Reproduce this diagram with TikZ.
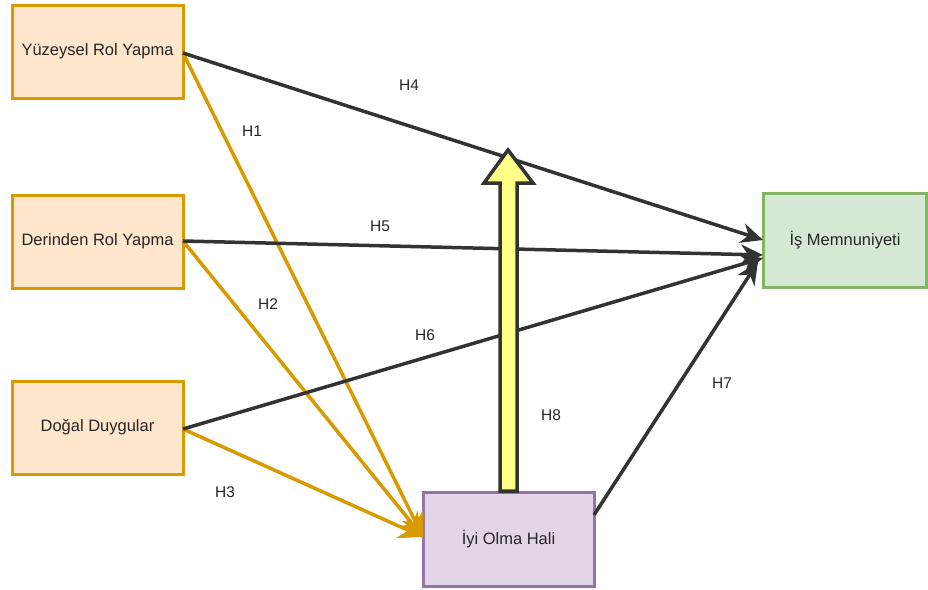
\documentclass[tikz,border=0pt]{standalone}
\usepackage{fontspec}
\setmainfont{Liberation Sans}
\usetikzlibrary{arrows.meta}
\definecolor{orfill}{HTML}{FFE6CC}
\definecolor{orline}{HTML}{D79B00}
\definecolor{grfill}{HTML}{D5E8D4}
\definecolor{grline}{HTML}{82B366}
\definecolor{pufill}{HTML}{E1D5E7}
\definecolor{puline}{HTML}{9673A6}
\definecolor{darkln}{HTML}{333333}
\definecolor{yel}{HTML}{FFFF88}
\begin{document}
\begin{tikzpicture}[x=1pt,y=-1pt,
  box/.style={draw, line width=3pt, minimum width=171pt, minimum height=93pt, inner sep=0pt, font=\fontsize{16.5}{20}\selectfont, text=black!85},
  orbox/.style={box, fill=orfill, draw=orline},
  dk/.style={draw=darkln, line width=3.5pt, -{Stealth[length=22pt,width=20pt,inset=7pt]}},
  orr/.style={draw=orline, line width=3.5pt, -{Stealth[length=24pt,width=24pt,inset=8pt]}},
  lbl/.style={font=\fontsize{15.5}{18}\selectfont, text=black!85, inner sep=0pt}]
\useasboundingbox (0,0) rectangle (928,589);
\node[orbox] (yr) at (97.5,51.5) {Yüzeysel Rol Yapma};
\node[orbox] (dr) at (97.5,241.5) {Derinden Rol Yapma};
\node[orbox] (dd) at (97.5,427.5) {Doğal Duygular};
\node[box, fill=grfill, draw=grline, minimum width=163pt, minimum height=94pt] (is) at (845,240) {İş Memnuniyeti};
\node[box, fill=pufill, draw=puline, minimum width=171pt, minimum height=94pt] (iy) at (508.5,539) {İyi Olma Hali};
\coordinate (ys) at (183,53);
\coordinate (ds) at (183,241);
\coordinate (gs) at (183,429);
\coordinate (t4) at (763,240);
\coordinate (t5) at (763,255);
\coordinate (t6) at (763,258);
\coordinate (t7) at (758,262);
\coordinate (s7) at (594,515);
\coordinate (to) at (423,537);
% orange
\draw[orr] (ys) -- (to);
\draw[orr] (ds) -- (to);
\draw[orr] (gs) -- (to);
% dark
\draw[dk] (ys) -- (t4);
\draw[dk] (ds) -- (t5);
\draw[dk] (gs) -- (t6);
\draw[dk] (s7) -- (t7);
% yellow arrow
\draw[fill=yel, draw=darkln, line width=3.5pt, line join=miter]
  (500,491) -- (500,183) -- (484,183) -- (508,150) -- (533,183) -- (517,183) -- (517,491) -- cycle;
% labels
\node[lbl] (h1) at (252,131) {H1};
\node[lbl] (h2) at (268,304) {H2};
\node[lbl] (h3) at (225,492) {H3};
\node[lbl] (h4) at (409,85) {H4};
\node[lbl] (h5) at (380,226) {H5};
\node[lbl] (h6) at (425,335) {H6};
\node[lbl] (h7) at (722,383) {H7};
\node[lbl] (h8) at (551,415) {H8};
\end{tikzpicture}
\end{document}
